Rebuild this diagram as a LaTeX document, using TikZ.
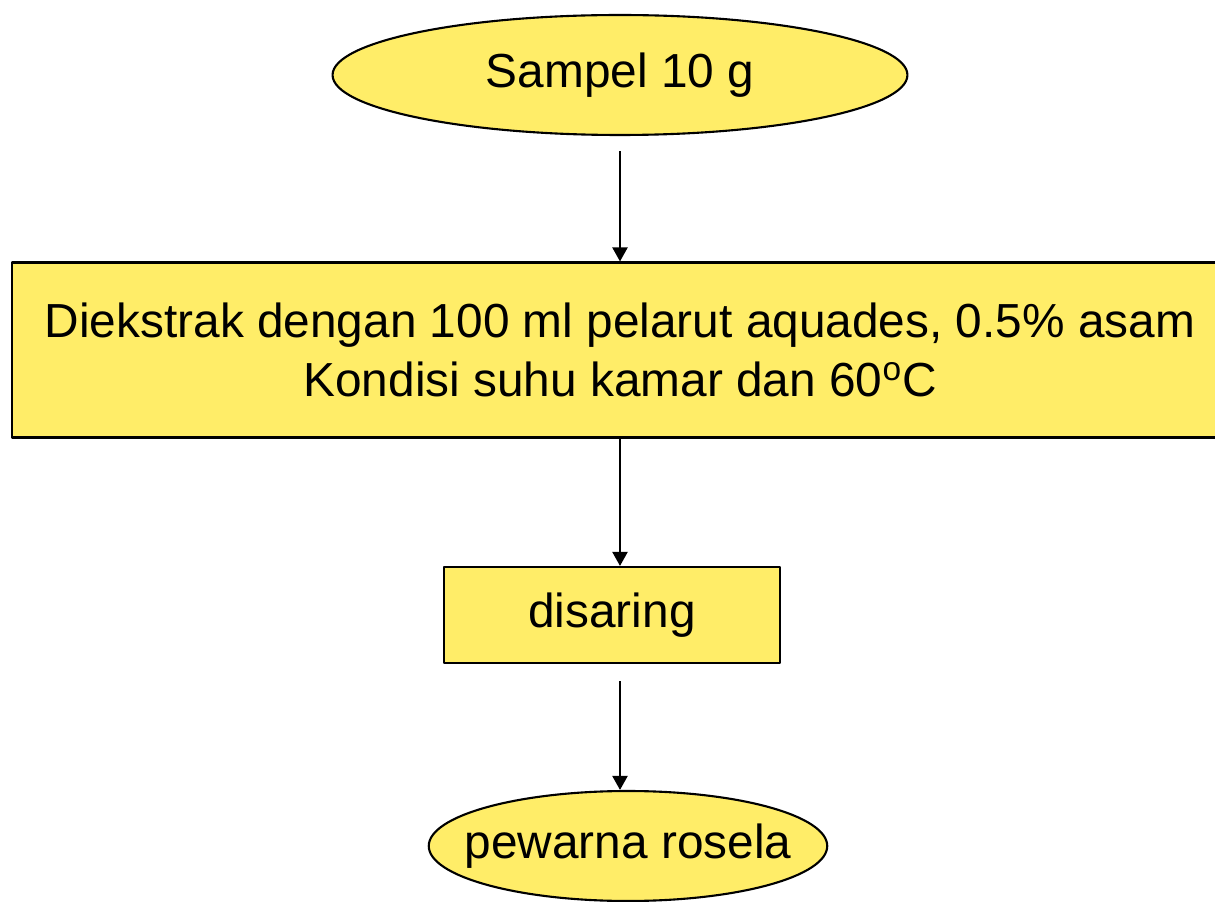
\documentclass[tikz,border=0pt]{standalone}
\usepackage{fontspec}
\setmainfont{Liberation Sans}
\usetikzlibrary{shapes.geometric,arrows.meta}
\definecolor{kuning}{RGB}{255,237,104}
\begin{document}
\begin{tikzpicture}[x=0.02cm,y=-0.02cm,>={Triangle[length=0.28cm,width=0.3cm]},line join=round,
					every node/.style={font=\fontsize{27.2}{33.5}\selectfont},
					kotak/.style={draw,fill=kuning,line width=1.2pt,inner sep=0pt,align=center},
					elips/.style={kotak,ellipse},
					panah/.style={->,line width=1.2pt}]
					\useasboundingbox (0,0) rectangle (1215,902);
					\node[elips,minimum width=11.5cm,minimum height=2.4cm] (sampel) at (620,75) {Sampel 10 g};
					\node[kotak,minimum width=24.32cm,minimum height=3.5cm] (ekstrak) at (620,350)
					{Diekstrak dengan 100 ml pelarut aquades, 0.5\% asam\\Kondisi suhu kamar dan 60\textsuperscript{o}C};
					\node[kotak,minimum width=6.72cm,minimum height=1.92cm] (saring) at (612,615) {disaring};
					\node[elips,inner xsep=-0.45cm,minimum height=2.2cm] (rosela) at (628,846) {pewarna rosela};
					\draw[panah,shorten <=0.3cm] (sampel) -- (ekstrak);
					\draw[panah] (ekstrak.south -| sampel.south) -- (saring.north -| sampel.south);
					\draw[panah,shorten <=0.34cm] (saring.south -| sampel.south) -- (rosela.north -| sampel.south);
				\end{tikzpicture}
\end{document}
